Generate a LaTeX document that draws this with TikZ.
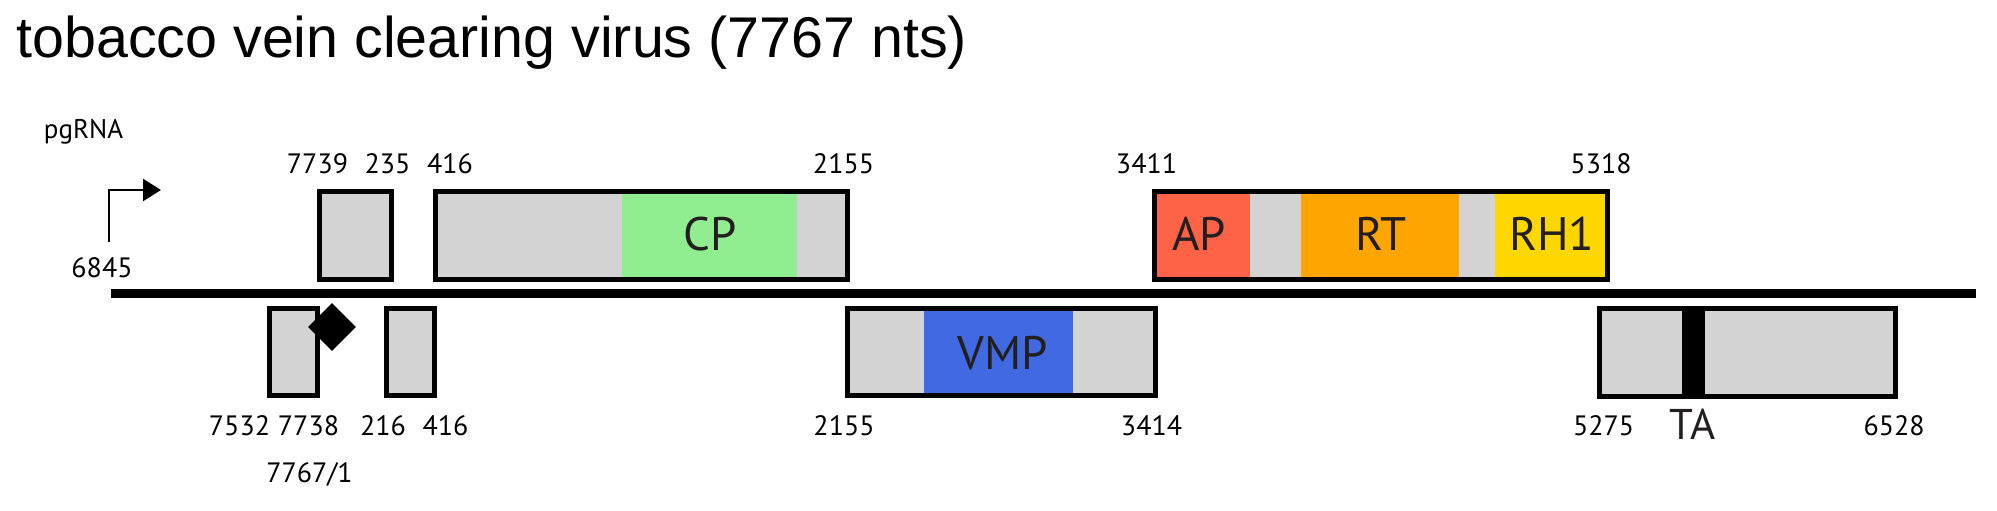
\documentclass[tikz,border=0pt]{standalone}
\usepackage{fontspec}
\setmainfont{PT Sans}
\newfontfamily\titlefont{Liberation Sans}
\usetikzlibrary{arrows.meta,shapes.geometric}
\definecolor{boxgray}{RGB}{211,211,211}
\definecolor{cpgreen}{RGB}{144,238,144}
\definecolor{aptomato}{RGB}{255,99,71}
\definecolor{rtorange}{RGB}{255,165,0}
\definecolor{rhgold}{RGB}{255,215,0}
\definecolor{vmpblue}{RGB}{65,105,225}
\definecolor{lbltext}{RGB}{35,31,32}
\tikzset{
  orf/.style={draw=black,line width=2.5pt,fill=boxgray},
  numlabel/.style={font=\fontsize{14}{16}\selectfont,inner sep=0pt},
  domlabel/.style={font=\fontsize{23.5}{28}\selectfont,text=lbltext,inner sep=0pt},
}
\begin{document}
\begin{tikzpicture}[x=0.5pt,y=-0.5pt,line join=miter]
\useasboundingbox (0,0) rectangle (1997,510);
\node[anchor=base west,inner sep=0pt,font=\titlefont\fontsize{28.7}{34}\selectfont] (title) at (16,57) {tobacco vein clearing virus (7767 nts)};
\coordinate (gstart) at (111,293.5);
\coordinate (gend) at (1976,293.5);
\coordinate (tss) at (109,242);
\coordinate (tsstip) at (161,190);
\coordinate (B1-a) at (319.5,191.5);
\coordinate (B1-b) at (391.5,279.5);
\coordinate (CP-a) at (435.5,191.5);
\coordinate (CP-b) at (847.5,279.5);
\coordinate (POL-a) at (1154.5,191.5);
\coordinate (POL-b) at (1607.5,279.5);
\coordinate (L1-a) at (269.5,308.5);
\coordinate (L1-b) at (317.5,395.5);
\coordinate (L2-a) at (386.5,308.5);
\coordinate (L2-b) at (434.5,395.5);
\coordinate (VMP-a) at (847.5,308.5);
\coordinate (VMP-b) at (1155.5,395.5);
\coordinate (TA-a) at (1599.5,308.5);
\coordinate (TA-b) at (1895.5,396.5);
\draw[line width=4.5pt] (gstart)--(gend);
\draw[line width=1.2pt,-{Triangle[length=9pt,width=11pt]}] (tss) |- (tsstip);
\node[anchor=base,inner sep=0pt,font=\fontsize{13.5}{16}\selectfont] (pgrna) at (83.5,138) {pgRNA};
\node[numlabel] (n6845) at (102,267.5) {6845};
\draw[orf] (B1-a) rectangle (B1-b);
\draw[orf] (CP-a) rectangle (CP-b);
\fill[cpgreen] (622,194) rectangle (797,277);
\draw[line width=2.5pt] (CP-a) rectangle (CP-b);
\draw[orf] (POL-a) rectangle (POL-b);
\fill[aptomato] (POL-a) rectangle (1250,279.5);
\fill[rtorange] (1301,191.5) rectangle (1459,279.5);
\fill[rhgold] (1495,191.5) rectangle (POL-b);
\draw[line width=2.5pt] (POL-a) rectangle (POL-b);
\draw[orf] (L1-a) rectangle (L1-b);
\draw[orf] (L2-a) rectangle (L2-b);
\draw[orf] (VMP-a) rectangle (VMP-b);
\fill[vmpblue] (924,311) rectangle (1073,393);
\draw[line width=2.5pt] (VMP-a) rectangle (VMP-b);
\draw[orf] (TA-a) rectangle (TA-b);
\fill[black] (1682,308.5) rectangle (1705,396.5);
\node[diamond,fill=black,minimum size=24pt,inner sep=0pt] (stop) at (332,327) {};
\node[domlabel] (cp) at (710,234) {CP};
\node[domlabel] (ap) at (1199,234) {AP};
\node[domlabel] (rt) at (1381,234) {RT};
\node[domlabel] (rh) at (1552,234) {RH1};
\node[domlabel] (vmp) at (1003,353) {VMP};
\node[domlabel,font=\fontsize{21.5}{26}\selectfont] (ta) at (1692.5,424) {TA};
\node[numlabel] (t7739) at (317.5,164) {7739};
\node[numlabel] (t235) at (387.5,164) {235};
\node[numlabel] (t416) at (450,164) {416};
\node[numlabel] (t2155) at (843.5,164) {2155};
\node[numlabel] (t3411) at (1146.5,164) {3411};
\node[numlabel] (t5318) at (1601,164) {5318};
\node[numlabel] (b7532) at (239.5,426) {7532};
\node[numlabel] (b7738) at (308.5,426) {7738};
\node[numlabel] (b216) at (383,426) {216};
\node[numlabel] (b416) at (445.5,426) {416};
\node[numlabel] (b2155) at (844,426) {2155};
\node[numlabel] (b3414) at (1151.5,426) {3414};
\node[numlabel] (b5275) at (1603.5,426) {5275};
\node[numlabel] (b6528) at (1894,426) {6528};
\node[numlabel] (b7767) at (309.5,474) {7767/1};
\end{tikzpicture}
\end{document}
